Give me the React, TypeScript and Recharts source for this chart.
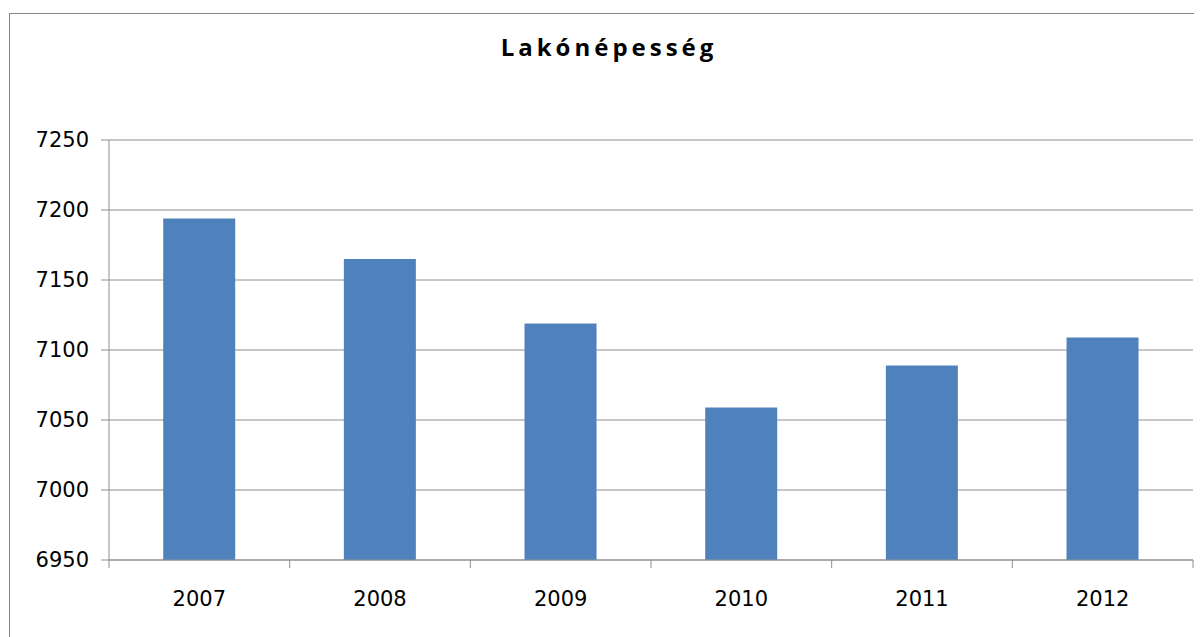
import React from "react";
import { BarChart, Bar, XAxis, YAxis, CartesianGrid } from "recharts";

const years = ["2007", "2008", "2009", "2010", "2011", "2012"];
const population = [7194, 7165, 7119, 7059, 7089, 7109];
const yTicks = [6950, 7000, 7050, 7100, 7150, 7200, 7250];
const boundaryTicks = [0, 1, 2, 3, 4, 5, 6];
const title = "Lakónépesség";

const data = years.map((y, i) => ({ year: y, value: population[i] }));

const GRAY = "#8E8E8E";
const FONT = "'DejaVu Sans', sans-serif";

export default function App() {
  return (
    <div style={{ position: "relative", width: 1194, height: 629, overflow: "hidden" }}>
      <div
        style={{
          position: "absolute",
          left: 1,
          top: 5,
          right: 0,
          bottom: 0,
          borderLeft: "1px solid #868686",
          borderTop: "1px solid #868686",
        }}
      />
      <div
        style={{
          position: "absolute",
          left: 4,
          top: 27,
          width: 1194,
          textAlign: "center",
          fontFamily: "'Open Sans', sans-serif",
          fontWeight: 700,
          fontSize: 24,
          lineHeight: "24px",
          letterSpacing: 4,
          color: "#000",
        }}
      >
        {title}
      </div>
      <div style={{ position: "absolute", left: 0, top: 0 }}>
        <BarChart
          width={1194}
          height={629}
          data={data}
          margin={{ top: 132, right: 9, left: 41, bottom: 36 }}
          barCategoryGap="30%"
        >
          <CartesianGrid vertical={false} stroke={GRAY} strokeWidth={1} xAxisId="cat" />
          <XAxis
            xAxisId="bnd"
            type="number"
            dataKey="value"
            domain={[0, 6]}
            ticks={boundaryTicks}
            interval={0}
            axisLine={{ stroke: GRAY }}
            tickLine={{ stroke: GRAY }}
            tickSize={8}
            height={1}
            tickFormatter={() => ""}
            allowDataOverflow
          />
          <XAxis
            xAxisId="cat"
            dataKey="year"
            axisLine={false}
            tickLine={false}
            tickSize={0}
            tickMargin={30}
            height={40}
            tick={{ fill: "#000", fontSize: 21, fontFamily: FONT }}
            interval={0}
          />
          <YAxis
            domain={[6950, 7250]}
            ticks={yTicks}
            width={60}
            axisLine={{ stroke: GRAY }}
            tickLine={{ stroke: GRAY }}
            tickSize={8}
            tickMargin={12}
            tick={{ fill: "#000", fontSize: 21, fontFamily: FONT }}
            interval={0}
            allowDataOverflow
          />
          <Bar dataKey="value" xAxisId="cat" fill="#4F81BD" isAnimationActive={false} />
        </BarChart>
      </div>
    </div>
  );
}
